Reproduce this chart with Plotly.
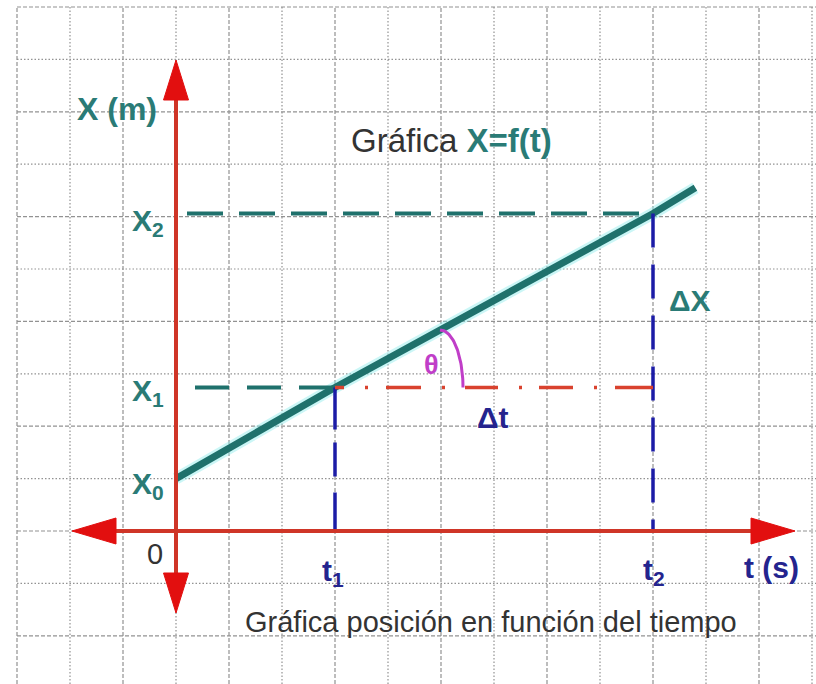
import numpy as np
import plotly.graph_objects as go

# Position-time data (grid units: 1 cell = 1 s horizontally, 1 m vertically)
t_line = [0.0, 3.0, 9.0, 9.8]
x_line = [1.0, 2.74, 6.06, 6.55]

t1, t2 = t_line[1], t_line[2]
x0, x1, x2 = x_line[0], x_line[1], x_line[2]

# Canvas geometry: pixels per grid unit and origin position
W, H = 816, 684
PX_X, PX_Y = 53.0, 52.4
ORIG_PX = (176, 531)


def px_t(px):
    return (px - ORIG_PX[0]) / PX_X


def px_y(py):
    return (ORIG_PX[1] - py) / PX_Y


x_range = [px_t(0), px_t(W)]
y_range = [px_y(H), px_y(0)]

TEAL = "#1f716c"
TEAL_TXT = "#2a7b76"
NAVY = "#24248e"
BLUE = "#1c1ca6"
RED_AX = "#cf3527"
RED_HEAD = "#e20f0f"
RED_DD = "#d9422e"
MAGENTA = "#c03ec8"
GRAY_TXT = "#333333"
FONT = "Arial, Liberation Sans, sans-serif"

fig = go.Figure()
shapes = []

# Background grid: alternating dashed / dotted lines
grid_top = 10
for gx in range(-3, 13):
    shapes.append(dict(type="line", xref="x", yref="y", x0=gx, x1=gx,
                       y0=y_range[0], y1=grid_top, layer="below",
                       line=dict(color="#929292", width=1.2,
                                 dash="4px,2px" if gx % 2 else "1.5px,2px")))
for gy in range(-2, 11):
    shapes.append(dict(type="line", xref="x", yref="y", x0=-3, x1=x_range[1],
                       y0=gy, y1=gy, layer="below",
                       line=dict(color="#929292", width=1.2,
                                 dash="4px,2px" if gy % 2 == 0 else "1.5px,2px")))

# Guide lines for X1, X2, t1, t2
shapes.append(dict(type="line", xref="x", yref="y", x0=px_t(187), x1=t2, y0=x2, y1=x2,
                   line=dict(color=TEAL, width=4, dash="36px,16px")))
shapes.append(dict(type="line", xref="x", yref="y", x0=px_t(195), x1=t1, y0=x1, y1=x1,
                   line=dict(color=TEAL, width=4, dash="34px,18px")))
shapes.append(dict(type="line", xref="x", yref="y", x0=t1, x1=t1, y0=x1, y1=0,
                   line=dict(color=BLUE, width=3.5, dash="42px,13px,34px,16px")))
shapes.append(dict(type="line", xref="x", yref="y", x0=t2, x1=t2, y0=x2, y1=0,
                   line=dict(color=BLUE, width=3.5, dash="34px,17px")))
# Δt dash-dot segment
dd = ("9px,21px,3px,18px,35px,21px,3px,20px,33px,21px,3px,17px,"
      "34px,21px,3px,18px,40px")
shapes.append(dict(type="line", xref="x", yref="y", x0=t1, x1=t2, y0=x1, y1=x1,
                   line=dict(color=RED_DD, width=3.5, dash=dd)))

# Coordinate axes with arrowheads
ax_up, ax_down = px_y(60), px_y(613)
ax_left, ax_right = px_t(72), px_t(795)
head_len_y = 40 / PX_Y
head_len_x = 44 / PX_X
half_w_x = 12.5 / PX_X
half_w_y = 13 / PX_Y

shapes.append(dict(type="line", xref="x", yref="y", x0=0, x1=0,
                   y0=ax_down + head_len_y * 0.9, y1=ax_up - head_len_y * 0.9,
                   line=dict(color=RED_AX, width=4)))
shapes.append(dict(type="line", xref="x", yref="y", y0=0, y1=0,
                   x0=ax_left + head_len_x * 0.9, x1=ax_right - head_len_x * 0.9,
                   line=dict(color=RED_AX, width=4)))


def tri(p1, p2, p3):
    return f"M{p1[0]},{p1[1]} L{p2[0]},{p2[1]} L{p3[0]},{p3[1]} Z"


for path in [
    tri((0, ax_up), (-half_w_x, ax_up - head_len_y), (half_w_x, ax_up - head_len_y)),
    tri((0, ax_down), (-half_w_x, ax_down + head_len_y), (half_w_x, ax_down + head_len_y)),
    tri((ax_left, 0), (ax_left + head_len_x, half_w_y), (ax_left + head_len_x, -half_w_y)),
    tri((ax_right, 0), (ax_right - head_len_x, half_w_y), (ax_right - head_len_x, -half_w_y)),
]:
    shapes.append(dict(type="path", xref="x", yref="y", path=path,
                       fillcolor=RED_HEAD, line=dict(color=RED_HEAD, width=1)))

# Position line X = f(t), with a soft glow underneath
fig.add_trace(go.Scatter(x=t_line, y=x_line, mode="lines",
                         line=dict(color="rgba(140,235,235,0.45)", width=12),
                         hoverinfo="skip", showlegend=False))
fig.add_trace(go.Scatter(x=t_line, y=x_line, mode="lines",
                         line=dict(color=TEAL, width=7),
                         hoverinfo="skip", showlegend=False))

# Angle marker θ between the line and the Δt segment
slope = (x2 - x1) / (t2 - t1)
tc = px_t(440)
top = x1 + slope * (tc - t1)
rx = 23 / PX_X
ry = top - x1
ang = np.linspace(np.pi / 2, 0, 40)
fig.add_trace(go.Scatter(x=tc + rx * np.cos(ang), y=x1 + ry * np.sin(ang), mode="lines",
                         line=dict(color=MAGENTA, width=3),
                         hoverinfo="skip", showlegend=False))


def label(text, px, py, size, color, bold=True, xanchor="center"):
    txt = f"<b>{text}</b>" if bold else text
    return dict(x=px_t(px), y=px_y(py), xref="x", yref="y", text=txt,
                showarrow=False, xanchor=xanchor, yanchor="middle",
                font=dict(family=FONT, size=size, color=color))


annotations = [
    label("X (m)", 117, 109, 32, TEAL_TXT),
    label("X<sub>2</sub>", 166, 222, 30, TEAL_TXT, xanchor="right"),
    label("X<sub>1</sub>", 166, 392, 30, TEAL_TXT, xanchor="right"),
    label("X<sub>0</sub>", 166, 485, 30, TEAL_TXT, xanchor="right"),
    label("0", 155, 554, 29, GRAY_TXT, bold=False),
    label("t<sub>1</sub>", 333, 572, 30, NAVY),
    label("t<sub>2</sub>", 654, 571, 30, NAVY),
    label("t (s)", 771, 567, 30, NAVY),
    label("ΔX", 690, 300, 30, TEAL_TXT),
    label("θ", 431, 365, 27, MAGENTA),
    label("Δt", 493, 417, 30, NAVY),
    label(f"Gráfica <span style='color:{TEAL_TXT}'><b>X=f(t)</b></span>", 451, 140, 33,
          GRAY_TXT, bold=False),
    label("Gráfica posición en función del tiempo", 491, 622, 29, GRAY_TXT, bold=False),
]

fig.update_layout(
    width=W, height=H,
    margin=dict(l=0, r=0, t=0, b=0),
    paper_bgcolor="white", plot_bgcolor="white",
    xaxis=dict(range=x_range, visible=False, fixedrange=True),
    yaxis=dict(range=y_range, visible=False, fixedrange=True),
    shapes=shapes,
    annotations=annotations,
    showlegend=False,
)

fig.write_html("out.html")
